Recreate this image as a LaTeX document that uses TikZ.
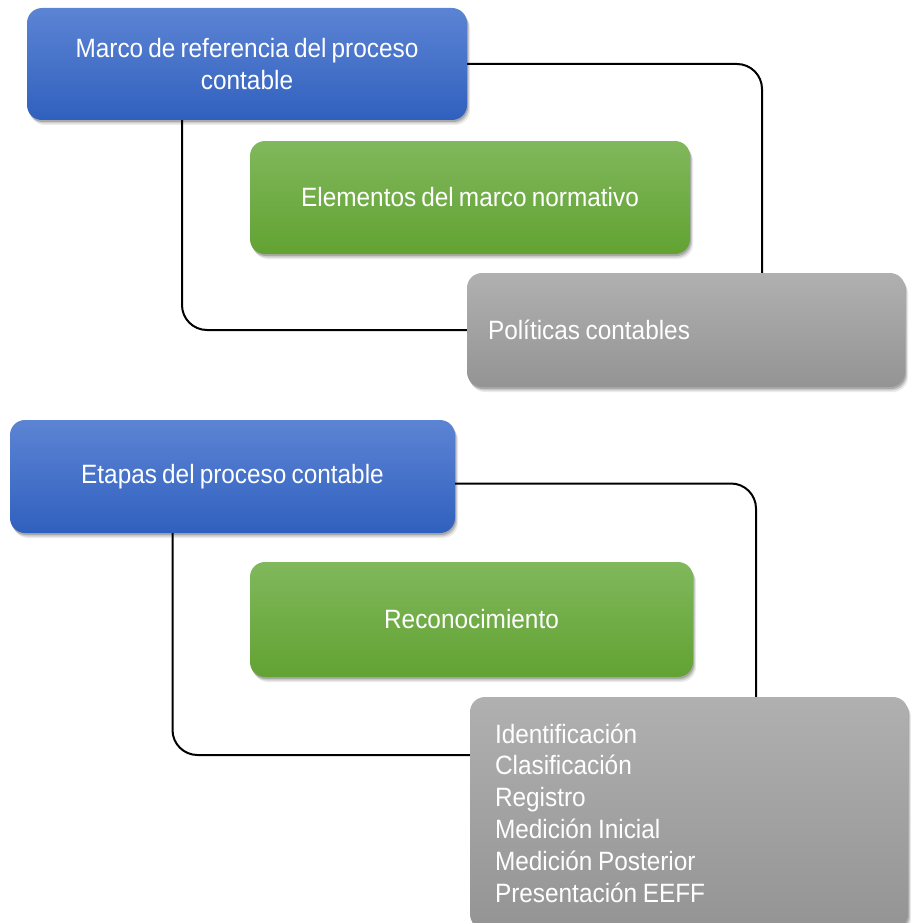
\documentclass[tikz,border=0pt]{standalone}
\usepackage{fontspec}
\newfontfamily\cajafont[FakeStretch=0.92,WordSpace=0.75]{Liberation Sans}
\usetikzlibrary{shadows}
\definecolor{azularriba}{RGB}{92,132,212}
\definecolor{azulabajo}{RGB}{48,96,190}
\definecolor{verdearriba}{RGB}{128,184,92}
\definecolor{verdeabajo}{RGB}{98,162,50}
\definecolor{grisarriba}{RGB}{176,176,176}
\definecolor{grisabajo}{RGB}{148,148,148}

\begin{document}
\begin{tikzpicture}[x=1pt,y=-1pt,
  caja/.style={rectangle, rounded corners=15pt, text=white, inner sep=0pt,
    font=\cajafont\fontsize{26.5}{31.8}\selectfont,
    drop shadow={shadow xshift=3pt, shadow yshift=-5pt, opacity=0.08, fill=black},
    drop shadow={shadow xshift=2pt, shadow yshift=-3.5pt, opacity=0.12, fill=black},
    drop shadow={shadow xshift=1pt, shadow yshift=-2pt, opacity=0.18, fill=black}},
  azul/.style={caja, top color=azularriba, bottom color=azulabajo, align=center},
  verde/.style={caja, top color=verdearriba, bottom color=verdeabajo, align=center},
  gris/.style={caja, top color=grisarriba, bottom color=grisabajo, align=left,
    execute at begin node={\spaceskip=5.5pt\relax}},
  enlace/.style={draw=black, line width=2pt, rounded corners=25pt}]
\useasboundingbox (0,0) rectangle (910,923);
\node[azul, minimum width=440pt, minimum height=112pt] (marco) at (247,64) {Marco de referencia del proceso\\contable};
\node[verde, minimum width=440pt, minimum height=113pt] (elementos) at (470,197.5) {Elementos del marco normativo};
\node[gris, minimum width=438pt, minimum height=114pt, text width=396pt] (politicas) at (686,330) {Políticas contables};
\draw[enlace] (marco.east) -| ([xshift=76pt]politicas.north);
\draw[enlace] ([xshift=-65pt]marco.south) |- (politicas.west);
%
\node[azul, minimum width=445pt, minimum height=113pt] (etapas) at (232.5,476.5) {Etapas del proceso contable};
\node[verde, minimum width=443pt, minimum height=115pt] (reconocimiento) at (471.5,619.5) {Reconocimiento};
\node[gris, minimum width=438pt, minimum height=232pt, text width=388pt] (pasos) at (689,813) {Identificación\\Clasificación\\Registro\\Medición Inicial\\Medición Posterior\\Presentación EEFF};
\draw[enlace] ([yshift=-7pt]etapas.east) -| ([xshift=67pt]pasos.north);
\draw[enlace] ([xshift=-60pt]etapas.south) |- ([yshift=58pt]pasos.west);
\end{tikzpicture}
\end{document}
